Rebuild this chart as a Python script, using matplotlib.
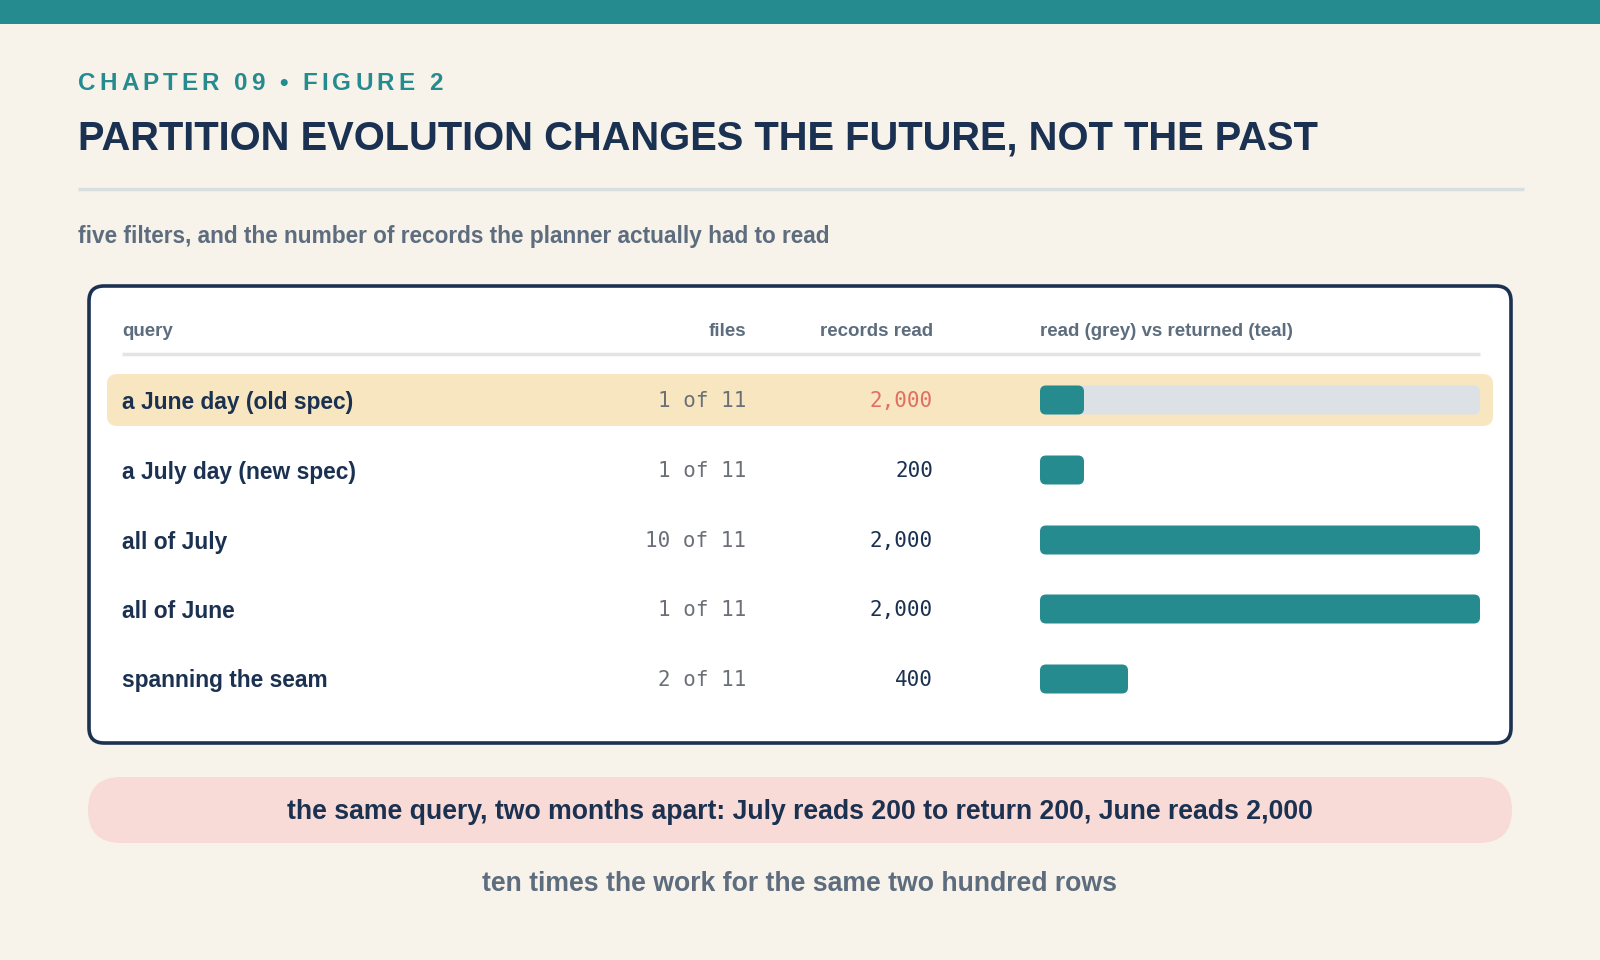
import matplotlib
matplotlib.use("Agg")
import matplotlib.pyplot as plt
from matplotlib.patches import FancyBboxPatch, Rectangle

# data
queries = ["a June day (old spec)", "a July day (new spec)", "all of July",
           "all of June", "spanning the seam"]
files_hit = [1, 1, 10, 1, 2]
files_total = 11
records_read = [2000, 200, 2000, 2000, 400]
records_returned = [200, 200, 2000, 2000, 400]
highlight_row = 0
bar_max = 2000

BG = "#f7f3eb"
TEAL = "#258b8f"
NAVY = "#1b3151"
GREY = "#5d6d7e"
MONO_GREY = "#6b7078"
RED = "#e07065"

plt.rcParams["font.family"] = ["Liberation Sans", "DejaVu Sans"]

W, H = 1600, 960
fig = plt.figure(figsize=(16, 9.6), dpi=100, facecolor=BG)
ax = fig.add_axes([0, 0, 1, 1])
ax.set_xlim(0, W)
ax.set_ylim(H, 0)
ax.axis("off")
renderer = fig.canvas.get_renderer()


def spaced_text(x, y, s, tracking, **kw):
    # matplotlib has no letter-spacing, so lay out char by char
    for ch in s:
        t = ax.text(x, y, ch, ha="left", va="center", **kw)
        bb = t.get_window_extent(renderer)
        x += bb.width + tracking


# header band
ax.add_patch(Rectangle((0, 0), W, 24, color=TEAL, lw=0))
spaced_text(78, 83, "CHAPTER 09 • FIGURE 2", 4.0, fontsize=17.5,
            fontweight="bold", color=TEAL)
ax.text(78, 139, "PARTITION EVOLUTION CHANGES THE FUTURE, NOT THE PAST",
        fontsize=28.7, fontweight="bold", color=NAVY, ha="left", va="center")
ax.plot([78, 1524], [189, 189], color="#d8dfdf", lw=2.5, solid_capstyle="butt")
ax.text(78, 236, "five filters, and the number of records the planner actually had to read",
        fontsize=16.3, fontweight="bold", color=GREY, ha="left", va="center")

# card
ax.add_patch(FancyBboxPatch((89, 286), 1422, 457,
                            boxstyle="round,pad=0,rounding_size=15",
                            facecolor="white", edgecolor=NAVY, lw=2.6))

col_query = 122
col_files = 746
col_records = 933
col_bar = 1040
bar_right = 1480

head_y = 332
ax.text(col_query, head_y, "query", fontsize=13.5, fontweight="bold", color=GREY,
        ha="left", va="center")
ax.text(col_files, head_y, "files", fontsize=13.5, fontweight="bold", color=GREY,
        ha="right", va="center")
ax.text(col_records, head_y, "records read", fontsize=13.5, fontweight="bold",
        color=GREY, ha="right", va="center")
ax.text(col_bar, head_y, "read (grey) vs returned (teal)", fontsize=13.5,
        fontweight="bold", color=GREY, ha="left", va="center")
ax.plot([122, 1480], [354, 354], color="#e2e4e6", lw=2.5, solid_capstyle="butt")

row_y = [400, 470, 540, 609, 679]

# highlighted row
ax.add_patch(FancyBboxPatch((107, 374), 1386, 52,
                            boxstyle="round,pad=0,rounding_size=10",
                            facecolor="#f7e6c0", edgecolor="none"))

for i, q in enumerate(queries):
    y = row_y[i]
    ax.text(col_query, y + 2, q, fontsize=16.4, fontweight="bold", color=NAVY,
            ha="left", va="center")
    ax.text(col_files, y + 1, f"{files_hit[i]} of {files_total}", fontsize=15,
            family="DejaVu Sans Mono", color=MONO_GREY, ha="right", va="center")
    ax.text(col_records, y + 1, f"{records_read[i]:,}", fontsize=15,
            family="DejaVu Sans Mono", color=RED if i == highlight_row else NAVY,
            ha="right", va="center")

# bar column: own axes, x in records
axb = fig.add_axes([col_bar / W, 0, (bar_right - col_bar) / W, 1])
axb.set_xlim(0, bar_max)
axb.set_ylim(H, 0)
axb.axis("off")
axb.patch.set_alpha(0)
units_per_px = bar_max / (bar_right - col_bar)
bar_h = 29
rad = 6 * units_per_px
aspect = 1 / units_per_px
for i in range(len(queries)):
    y0 = row_y[i] - bar_h / 2
    if records_read[i] > records_returned[i]:
        axb.add_patch(FancyBboxPatch((0, y0), records_read[i], bar_h,
                                     boxstyle=f"round,pad=0,rounding_size={rad}",
                                     mutation_aspect=aspect,
                                     facecolor="#dce1e5", edgecolor="none"))
    axb.add_patch(FancyBboxPatch((0, y0), records_returned[i], bar_h,
                                 boxstyle=f"round,pad=0,rounding_size={rad}",
                                 mutation_aspect=aspect,
                                 facecolor=TEAL, edgecolor="none"))

# callout pill
ax.add_patch(FancyBboxPatch((88, 777), 1424, 66,
                            boxstyle="round,pad=0,rounding_size=33",
                            facecolor="#f8dbd6", edgecolor="none"))
ax.text(800, 812, "the same query, two months apart: July reads 200 to return 200, June reads 2,000",
        fontsize=19.2, fontweight="bold", color=NAVY, ha="center", va="center")
ax.text(800, 884, "ten times the work for the same two hundred rows",
        fontsize=19.2, fontweight="bold", color=GREY, ha="center", va="center")

fig.savefig("out.png", dpi=100, facecolor=BG)
